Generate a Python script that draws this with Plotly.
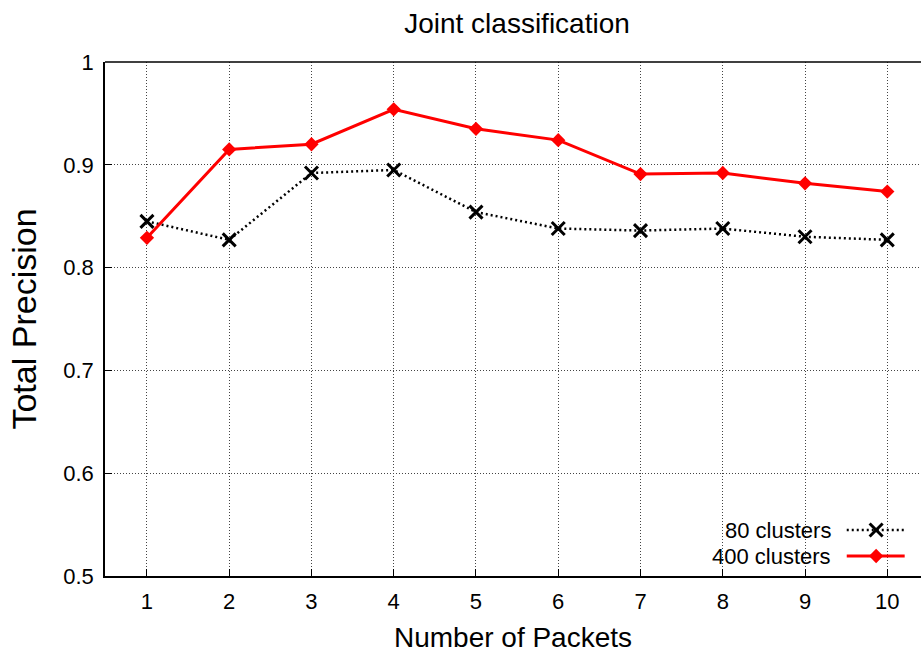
import plotly.graph_objects as go

packets = [1, 2, 3, 4, 5, 6, 7, 8, 9, 10]
prec_80 = [0.845, 0.827, 0.892, 0.895, 0.854, 0.838, 0.836, 0.838, 0.830, 0.827]
prec_400 = [0.829, 0.915, 0.920, 0.954, 0.935, 0.924, 0.891, 0.892, 0.882, 0.874]
y_ticks = [0.5, 0.6, 0.7, 0.8, 0.9, 1.0]
y_tick_labels = ["0.5", "0.6", "0.7", "0.8", "0.9", "1"]
names = ["80 clusters", "400 clusters"]

FONT = "Liberation Sans, Arial, sans-serif"

fig = go.Figure()
fig.add_trace(go.Scatter(
    x=packets, y=prec_80, mode="lines+markers", name=names[0],
    line=dict(color="black", width=2.5, dash="2px,3px"),
    marker=dict(symbol="x-thin", size=13, line=dict(color="black", width=3)),
    showlegend=False))
fig.add_trace(go.Scatter(
    x=packets, y=prec_400, mode="lines+markers", name=names[1],
    line=dict(color="#ff0000", width=3),
    marker=dict(symbol="diamond", size=11, color="#ff0000"),
    showlegend=False))

# manual gnuplot-style legend (text on left, sample on right)
leg_y = [0.0895, 0.0389]
fig.add_trace(go.Scatter(
    x=[0.909, 0.980], y=[leg_y[0]] * 2, xaxis="x2", yaxis="y2", mode="lines",
    line=dict(color="black", width=2.5, dash="2px,3px"), showlegend=False, hoverinfo="skip"))
fig.add_trace(go.Scatter(
    x=[0.945], y=[leg_y[0]], xaxis="x2", yaxis="y2", mode="markers",
    marker=dict(symbol="x-thin", size=13, line=dict(color="black", width=3)),
    showlegend=False, hoverinfo="skip"))
fig.add_trace(go.Scatter(
    x=[0.909, 0.980], y=[leg_y[1]] * 2, xaxis="x2", yaxis="y2", mode="lines",
    line=dict(color="#ff0000", width=3), showlegend=False, hoverinfo="skip"))
fig.add_trace(go.Scatter(
    x=[0.945], y=[leg_y[1]], xaxis="x2", yaxis="y2", mode="markers",
    marker=dict(symbol="diamond", size=11, color="#ff0000"),
    showlegend=False, hoverinfo="skip"))
for nm, yy in zip(names, leg_y):
    fig.add_annotation(x=0.892, y=yy, xref="x2", yref="y2", text=nm,
                       showarrow=False, xanchor="right", yanchor="middle",
                       font=dict(family=FONT, size=22, color="black"))

fig.update_layout(
    width=921, height=662,
    margin=dict(l=105, r=0, t=62, b=86),
    paper_bgcolor="white", plot_bgcolor="white",
    title=dict(text="Joint classification", x=517 / 921, xanchor="center",
               y=1 - 23 / 662, yanchor="middle",
               font=dict(family=FONT, size=28, color="black")),
    xaxis=dict(range=[0.49, 10.41], tickvals=packets, ticktext=[str(p) for p in packets],
               ticks="inside", ticklen=7, tickcolor="black", tickwidth=1,
               showline=True, linecolor="black", linewidth=1.5, mirror=False,
               showgrid=True, gridcolor="#444444", griddash="1px,2px", gridwidth=1,
               zeroline=False, ticklabelstandoff=5,
               tickfont=dict(family=FONT, size=22, color="black"),
               title=dict(text="Number of Packets", standoff=14,
                          font=dict(family=FONT, size=28, color="black"))),
    yaxis=dict(range=[0.5, 1.0], tickvals=y_ticks, ticktext=y_tick_labels,
               ticks="inside", ticklen=7, tickcolor="black", tickwidth=1,
               showline=True, linecolor="black", linewidth=1.5, mirror=False,
               showgrid=True, gridcolor="#444444", griddash="1px,2px", gridwidth=1,
               zeroline=False, ticklabelstandoff=5,
               tickfont=dict(family=FONT, size=22, color="black"),
               title=dict(text="Total Precision", standoff=16,
                          font=dict(family=FONT, size=34, color="black"))),
    xaxis2=dict(domain=[0, 1], range=[0, 1], overlaying="x", visible=False, fixedrange=True),
    yaxis2=dict(domain=[0, 1], range=[0, 1], overlaying="y", visible=False, fixedrange=True),
    shapes=[dict(type="line", xref="paper", yref="paper", x0=0, x1=1, y0=1, y1=1,
                 line=dict(color="black", width=1.5))],
)

fig.write_html("out.html")
